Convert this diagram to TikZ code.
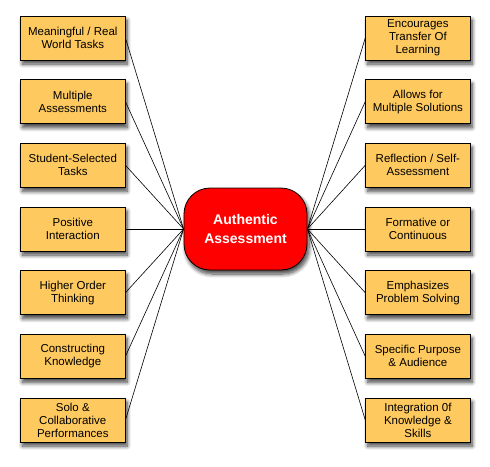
\documentclass[tikz,border=0pt]{standalone}
\usepackage{fontspec}
\setmainfont{Liberation Sans}
\usetikzlibrary{shadows.blur}
\definecolor{boxfill}{RGB}{254,201,94}
\definecolor{hubred}{RGB}{255,0,0}
\begin{document}
\begin{tikzpicture}[x=1pt,y=-1pt,
  topic/.style={draw=black, line width=0.8pt, fill=boxfill, minimum width=104.5pt, minimum height=44pt,
    inner sep=0pt, align=center, font=\fontsize{11.5}{13}\selectfont,
    blur shadow={shadow xshift=2pt, shadow yshift=-4pt, shadow blur steps=8, shadow blur radius=4pt, shadow opacity=75}},
  hub/.style={draw=black, line width=0.8pt, fill=hubred, minimum width=123pt, minimum height=82pt,
    rounded corners=26pt, inner sep=0pt, align=center, text=white,
    font=\fontsize{14}{19}\selectfont\bfseries,
    blur shadow={shadow xshift=2pt, shadow yshift=-4pt, shadow blur steps=8, shadow blur radius=4pt, shadow opacity=75}},
  link/.style={draw=black, line width=0.6pt}]
\useasboundingbox (0,0) rectangle (490,466);
\node[hub] (hub) at (245.5,229) {Authentic\\Assessment};
\node[topic] (l1) at (72.8,38) {Meaningful / Real\\World Tasks};
\node[topic] (l2) at (72.8,101.7) {Multiple\\Assessments};
\node[topic] (l3) at (72.8,165.3) {Student-Selected\\Tasks};
\node[topic] (l4) at (72.8,229) {Positive\\Interaction};
\node[topic] (l5) at (72.8,292.7) {Higher Order\\Thinking};
\node[topic] (l6) at (72.8,356.3) {Constructing\\Knowledge};
\node[topic] (l7) at (72.8,420) {Solo \&\\Collaborative\\Performances};
\node[topic] (r1) at (417.9,38) {Encourages\\Transfer Of\\Learning};
\node[topic] (r2) at (417.9,101.7) {Allows for\\Multiple Solutions};
\node[topic] (r3) at (417.9,165.3) {Reflection / Self-\\Assessment};
\node[topic] (r4) at (417.9,229) {Formative or\\Continuous};
\node[topic] (r5) at (417.9,292.7) {Emphasizes\\Problem Solving};
\node[topic] (r6) at (417.9,356.3) {Specific Purpose\\\& Audience};
\node[topic] (r7) at (417.9,420) {Integration 0f\\Knowledge \&\\Skills};
\foreach \i in {1,...,7} {
  \draw[link] (l\i.east) -- (hub.west);
  \draw[link] (r\i.west) -- (hub.east);
}
\end{tikzpicture}
\end{document}
